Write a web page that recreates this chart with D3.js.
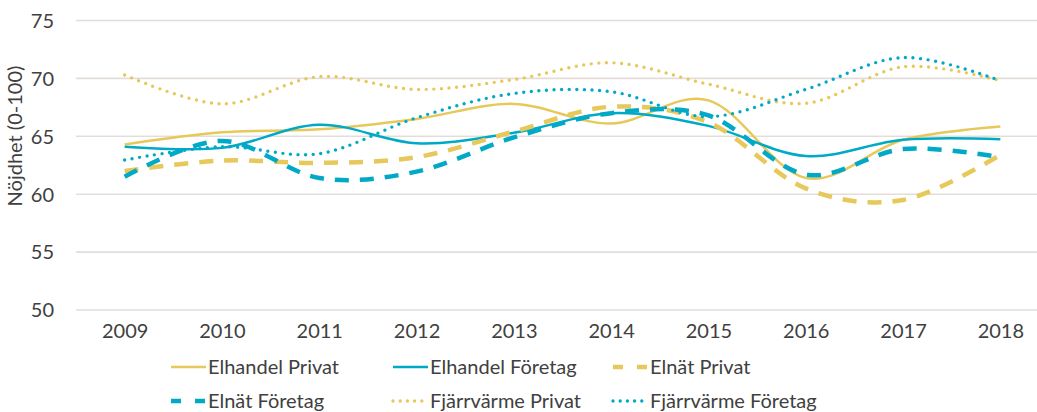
<!DOCTYPE html>
<html><head><meta charset="utf-8">
<script src="https://cdn.jsdelivr.net/npm/d3@7"></script>
<style>
body{margin:0;background:#fff;}
text{font-family:Lato,"Open Sans",sans-serif;fill:#404040;}
</style></head>
<body>
<svg id="chart" width="1037" height="412"></svg>
<script>
const years = ["2009","2010","2011","2012","2013","2014","2015","2016","2017","2018"];
const yTicks = [50,55,60,65,70,75];
const elhandelPrivat  = [64.3,65.35,65.6,66.5,67.8,66.1,68.1,61.4,64.7,65.85];
const elhandelForetag = [64.1,64.0,66.0,64.4,65.3,67.0,65.9,63.3,64.7,64.75];
const elnatPrivat     = [62.0,62.9,62.7,63.2,65.4,67.55,66.2,60.5,59.5,63.4];
const elnatForetag    = [61.5,64.6,61.4,61.95,64.9,67.0,66.8,61.7,63.9,63.2];
const fjvPrivat       = [70.3,67.8,70.15,69.05,69.9,71.35,69.5,67.85,71.0,69.8];
const fjvForetag      = [62.95,64.1,63.5,66.6,68.7,68.85,66.7,69.05,71.8,69.8];
const seriesNames = ["Elhandel Privat","Elhandel Företag","Elnät Privat","Elnät Företag","Fjärrvärme Privat","Fjärrvärme Företag"];

const GOLD = "#E7C85A", TEAL = "#00A9C6";
const series = [
  {name:seriesNames[0], values:elhandelPrivat,  color:GOLD, w:2.5, dash:null, cap:"butt"},
  {name:seriesNames[1], values:elhandelForetag, color:TEAL, w:2.5, dash:null, cap:"butt"},
  {name:seriesNames[2], values:elnatPrivat,     color:GOLD, w:4.5, dash:"14,11", cap:"butt"},
  {name:seriesNames[3], values:elnatForetag,    color:TEAL, w:4.5, dash:"14,11", cap:"butt"},
  {name:seriesNames[4], values:fjvPrivat,       color:GOLD, w:3.4, dash:"0,7.6", cap:"round"},
  {name:seriesNames[5], values:fjvForetag,      color:TEAL, w:3.4, dash:"0,7.6", cap:"round"}
];

const svg = d3.select("#chart");
const pLeft = 76, pRight = 1049, pTop = 20.5, pBottom = 310;
const x = d3.scalePoint().domain(years).range([pLeft, pRight]).padding(0.5);
const y = d3.scaleLinear().domain([50,75]).range([pBottom, pTop]);
const FS = "20px";

// gridlines
svg.append("g").selectAll("line").data(yTicks).join("line")
  .attr("x1", pLeft).attr("x2", 1037)
  .attr("y1", d=>y(d)).attr("y2", d=>y(d))
  .attr("stroke","#E3DDDA").attr("stroke-width",1.6);

// y axis labels
const yAxis = d3.axisLeft(y).tickValues(yTicks).tickSize(0).tickPadding(0);
const gy = svg.append("g").attr("transform","translate(54,0)").call(yAxis);
gy.select(".domain").remove();
gy.selectAll("text").style("font-size",FS).style("font-family","Lato, sans-serif").attr("fill","#404040").attr("dy","0.34em");

// x axis labels
const xAxis = d3.axisBottom(x).tickSize(0).tickPadding(0);
const gx = svg.append("g").attr("transform","translate(0,331)").call(xAxis);
gx.select(".domain").remove();
gx.selectAll("text").style("font-size",FS).style("font-family","Lato, sans-serif").attr("fill","#404040").attr("dy","0.35em");

// y title
svg.append("text").attr("transform","translate(22,136) rotate(-90)")
  .attr("text-anchor","middle").style("font-size",FS).text("Nöjdhet (0-100)");

// lines
const line = d3.line().x((d,i)=>x(years[i])).y(d=>y(d)).curve(d3.curveCardinal.tension(0));
svg.append("g").selectAll("path").data(series).join("path")
  .attr("d", s=>line(s.values))
  .attr("fill","none").attr("stroke",s=>s.color).attr("stroke-width",s=>s.w)
  .attr("stroke-dasharray",s=>s.dash).attr("stroke-linecap",s=>s.cap);

// legend
const legX = [171, 393, 613];
const legY = [367, 401];
const lg = svg.append("g").selectAll("g").data(series).join("g")
  .attr("transform",(s,i)=>`translate(${legX[i%3]},${legY[Math.floor(i/3)]})`);
lg.append("line").attr("x1",0).attr("x2",35).attr("y1",0).attr("y2",0)
  .attr("stroke",s=>s.color).attr("stroke-width",s=>s.w)
  .attr("stroke-dasharray",s=>s.dash ? (s.cap==="round" ? "0,7.2" : "10,14") : null)
  .attr("stroke-linecap",s=>s.cap);
lg.append("text").attr("x",37).attr("y",0).attr("dy","0.35em")
  .style("font-size",FS).text(s=>s.name);
</script>
</body></html>
